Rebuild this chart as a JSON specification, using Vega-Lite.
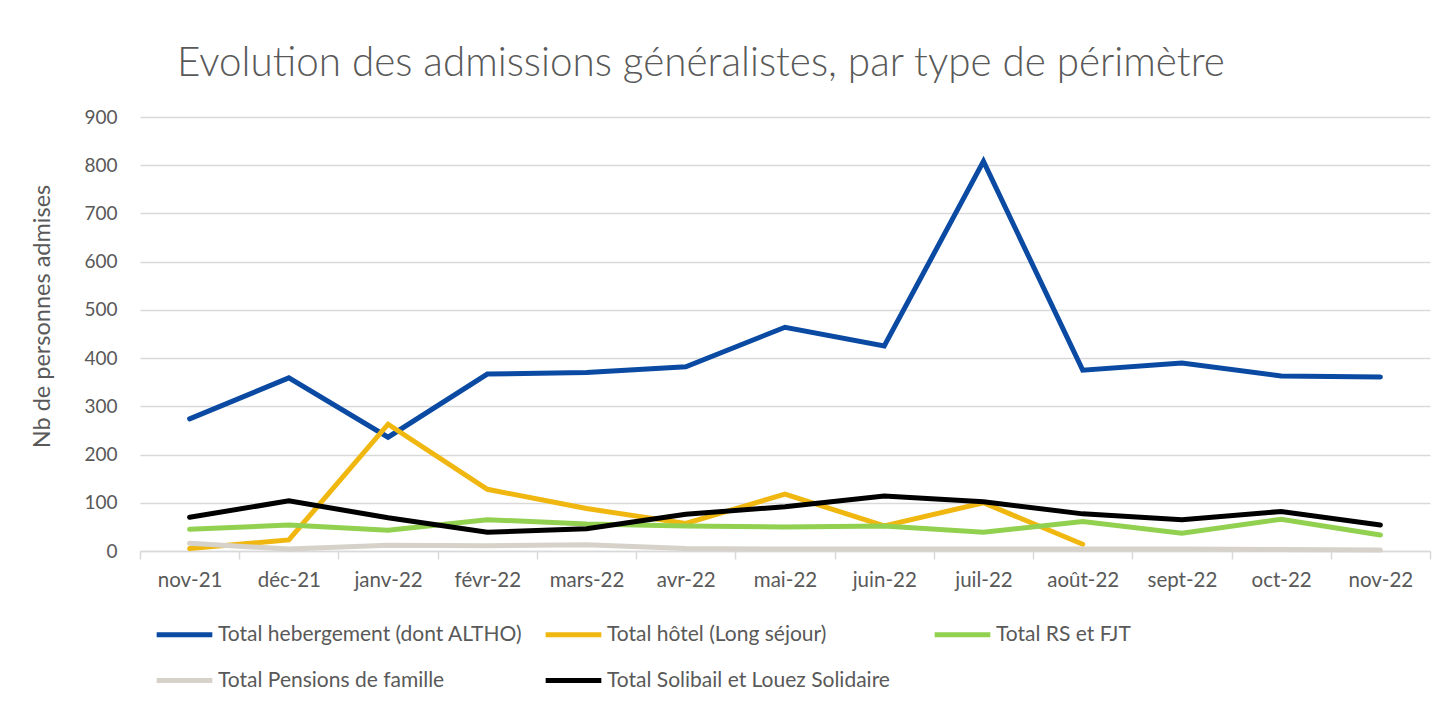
{
  "$schema": "https://vega.github.io/schema/vega-lite/v6.json",
  "width": 1290,
  "height": 434,
  "autosize": {"type": "none"},
  "padding": {"left": 140, "top": 117, "right": 18, "bottom": 157},
  "background": "white",
  "title": {
    "text": "Evolution des admissions généralistes, par type de périmètre",
    "anchor": "start",
    "frame": "group",
    "dx": 37,
    "offset": -8,
    "baseline": "alphabetic",
    "font": "Lato",
    "fontSize": 40.4,
    "fontWeight": 300,
    "color": "#595959"
  },
  "datasets": {
    "series": [
      {"serie": "Total hebergement (dont ALTHO)", "mois": "nov-21", "valeur": 274},
      {"serie": "Total hebergement (dont ALTHO)", "mois": "déc-21", "valeur": 359},
      {"serie": "Total hebergement (dont ALTHO)", "mois": "janv-22", "valeur": 236},
      {"serie": "Total hebergement (dont ALTHO)", "mois": "févr-22", "valeur": 367},
      {"serie": "Total hebergement (dont ALTHO)", "mois": "mars-22", "valeur": 370},
      {"serie": "Total hebergement (dont ALTHO)", "mois": "avr-22", "valeur": 382},
      {"serie": "Total hebergement (dont ALTHO)", "mois": "mai-22", "valeur": 464},
      {"serie": "Total hebergement (dont ALTHO)", "mois": "juin-22", "valeur": 425},
      {"serie": "Total hebergement (dont ALTHO)", "mois": "juil-22", "valeur": 808},
      {"serie": "Total hebergement (dont ALTHO)", "mois": "août-22", "valeur": 375},
      {"serie": "Total hebergement (dont ALTHO)", "mois": "sept-22", "valeur": 390},
      {"serie": "Total hebergement (dont ALTHO)", "mois": "oct-22", "valeur": 363},
      {"serie": "Total hebergement (dont ALTHO)", "mois": "nov-22", "valeur": 361},
      {"serie": "Total hôtel (Long séjour)", "mois": "nov-21", "valeur": 5},
      {"serie": "Total hôtel (Long séjour)", "mois": "déc-21", "valeur": 23},
      {"serie": "Total hôtel (Long séjour)", "mois": "janv-22", "valeur": 263},
      {"serie": "Total hôtel (Long séjour)", "mois": "févr-22", "valeur": 128},
      {"serie": "Total hôtel (Long séjour)", "mois": "mars-22", "valeur": 88},
      {"serie": "Total hôtel (Long séjour)", "mois": "avr-22", "valeur": 57},
      {"serie": "Total hôtel (Long séjour)", "mois": "mai-22", "valeur": 118},
      {"serie": "Total hôtel (Long séjour)", "mois": "juin-22", "valeur": 52},
      {"serie": "Total hôtel (Long séjour)", "mois": "juil-22", "valeur": 100},
      {"serie": "Total hôtel (Long séjour)", "mois": "août-22", "valeur": 14},
      {"serie": "Total RS et FJT", "mois": "nov-21", "valeur": 45},
      {"serie": "Total RS et FJT", "mois": "déc-21", "valeur": 54},
      {"serie": "Total RS et FJT", "mois": "janv-22", "valeur": 43},
      {"serie": "Total RS et FJT", "mois": "févr-22", "valeur": 65},
      {"serie": "Total RS et FJT", "mois": "mars-22", "valeur": 56},
      {"serie": "Total RS et FJT", "mois": "avr-22", "valeur": 52},
      {"serie": "Total RS et FJT", "mois": "mai-22", "valeur": 50},
      {"serie": "Total RS et FJT", "mois": "juin-22", "valeur": 52},
      {"serie": "Total RS et FJT", "mois": "juil-22", "valeur": 39},
      {"serie": "Total RS et FJT", "mois": "août-22", "valeur": 61},
      {"serie": "Total RS et FJT", "mois": "sept-22", "valeur": 37},
      {"serie": "Total RS et FJT", "mois": "oct-22", "valeur": 66},
      {"serie": "Total RS et FJT", "mois": "nov-22", "valeur": 33},
      {"serie": "Total Pensions de famille", "mois": "nov-21", "valeur": 16},
      {"serie": "Total Pensions de famille", "mois": "déc-21", "valeur": 4},
      {"serie": "Total Pensions de famille", "mois": "janv-22", "valeur": 12},
      {"serie": "Total Pensions de famille", "mois": "févr-22", "valeur": 11},
      {"serie": "Total Pensions de famille", "mois": "mars-22", "valeur": 13},
      {"serie": "Total Pensions de famille", "mois": "avr-22", "valeur": 5},
      {"serie": "Total Pensions de famille", "mois": "mai-22", "valeur": 4},
      {"serie": "Total Pensions de famille", "mois": "juin-22", "valeur": 4},
      {"serie": "Total Pensions de famille", "mois": "juil-22", "valeur": 4},
      {"serie": "Total Pensions de famille", "mois": "août-22", "valeur": 4},
      {"serie": "Total Pensions de famille", "mois": "sept-22", "valeur": 4},
      {"serie": "Total Pensions de famille", "mois": "oct-22", "valeur": 3},
      {"serie": "Total Pensions de famille", "mois": "nov-22", "valeur": 2},
      {"serie": "Total Solibail et Louez Solidaire", "mois": "nov-21", "valeur": 70},
      {"serie": "Total Solibail et Louez Solidaire", "mois": "déc-21", "valeur": 104},
      {"serie": "Total Solibail et Louez Solidaire", "mois": "janv-22", "valeur": 69},
      {"serie": "Total Solibail et Louez Solidaire", "mois": "févr-22", "valeur": 39},
      {"serie": "Total Solibail et Louez Solidaire", "mois": "mars-22", "valeur": 46},
      {"serie": "Total Solibail et Louez Solidaire", "mois": "avr-22", "valeur": 76},
      {"serie": "Total Solibail et Louez Solidaire", "mois": "mai-22", "valeur": 92},
      {"serie": "Total Solibail et Louez Solidaire", "mois": "juin-22", "valeur": 114},
      {"serie": "Total Solibail et Louez Solidaire", "mois": "juil-22", "valeur": 102},
      {"serie": "Total Solibail et Louez Solidaire", "mois": "août-22", "valeur": 77},
      {"serie": "Total Solibail et Louez Solidaire", "mois": "sept-22", "valeur": 65},
      {"serie": "Total Solibail et Louez Solidaire", "mois": "oct-22", "valeur": 82},
      {"serie": "Total Solibail et Louez Solidaire", "mois": "nov-22", "valeur": 54}
    ]
  },
  "data": {"name": "series"},
  "mark": {"type": "line", "strokeWidth": 5, "strokeCap": "round", "strokeJoin": "miter"},
  "encoding": {
    "x": {
      "field": "mois",
      "type": "nominal",
      "sort": ["nov-21", "déc-21", "janv-22", "févr-22", "mars-22", "avr-22", "mai-22", "juin-22", "juil-22", "août-22", "sept-22", "oct-22", "nov-22"],
      "scale": {"type": "band", "paddingInner": 0, "paddingOuter": 0},
      "bandPosition": 0.5,
      "axis": {
        "title": null,
        "labelAngle": 0,
        "labelFont": "Lato",
        "labelFontSize": 20.5,
        "labelColor": "#595959",
        "labelPadding": 11,
        "domainColor": "#d9d9d9",
        "domainWidth": 1.5,
        "tickColor": "#d9d9d9",
        "tickWidth": 1.5,
        "tickSize": 8,
        "tickBand": "extent",
        "grid": false
      }
    },
    "y": {
      "field": "valeur",
      "type": "quantitative",
      "scale": {"domain": [0, 900], "nice": false},
      "axis": {
        "title": "Nb de personnes admises",
        "titleFont": "Lato",
        "titleFontSize": 23.5,
        "titleFontWeight": "normal",
        "titleColor": "#595959",
        "titleX": -98,
        "titleY": 199,
        "titleAngle": -90,
        "titleBaseline": "middle",
        "titleAlign": "center",
        "values": [0, 100, 200, 300, 400, 500, 600, 700, 800, 900],
        "labelFont": "Lato",
        "labelFontSize": 19,
        "labelColor": "#595959",
        "labelPadding": 23,
        "ticks": false,
        "domain": false,
        "grid": true,
        "gridColor": "#d9d9d9",
        "gridWidth": 1.5
      }
    },
    "color": {
      "field": "serie",
      "type": "nominal",
      "scale": {
        "domain": ["Total hebergement (dont ALTHO)", "Total hôtel (Long séjour)", "Total RS et FJT", "Total Pensions de famille", "Total Solibail et Louez Solidaire"],
        "range": ["#0b4aa2", "#efb70f", "#92d050", "#d6d2c9", "#000000"]
      },
      "legend": {
        "title": null,
        "orient": "none",
        "legendX": 14,
        "legendY": 487,
        "direction": "horizontal",
        "columns": 3,
        "gridAlign": "all",
        "symbolType": "stroke",
        "symbolSize": 3100,
        "symbolStrokeWidth": 5,
        "symbolOffset": 0,
        "labelOffset": 3,
        "labelFont": "Lato",
        "labelFontSize": 21,
        "labelColor": "#595959",
        "labelLimit": 500,
        "columnPadding": 12,
        "rowPadding": 5
      }
    }
  },
  "config": {
    "view": {"stroke": null},
    "font": "Lato"
  }
}
